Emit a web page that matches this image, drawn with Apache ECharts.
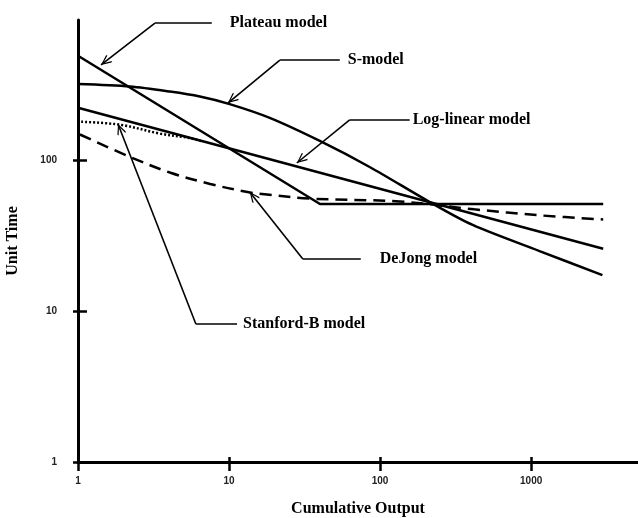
<!DOCTYPE html>
<html><head><meta charset="utf-8">
<script src="https://cdn.jsdelivr.net/npm/echarts@6/dist/echarts.min.js"></script>
<style>html,body{margin:0;padding:0;background:#fff}#c{width:638px;height:518px}</style>
</head><body><div id="c"></div>
<script>
// ---- data ----
const xTickValues = [1, 10, 100, 1000];
const yTickValues = [1, 10, 100];

const plateauX = [1, 40, 3000];
const plateauY = [496, 51.5, 51.5];

const logLinearX = [1, 3000];
const logLinearY = [224, 26];

const sModelX = [1, 2.21, 4.06, 6.41, 10.1, 18.6, 39.9, 85.3, 213, 410, 1137, 2965];
const sModelY = [322, 310, 287, 266, 237, 192, 135, 90.7, 53.1, 37.4, 25.1, 17.4];

const stanfordX = [1.05, 1.9, 3.5, 5.3, 6.5];
const stanfordY = [181, 173, 151, 142, 135];

const deJongX = [1.03, 2.2, 4.1, 7.5, 13.8, 17.8, 34, 135, 420, 1150, 3000];
const deJongY = [149, 106, 83, 70, 61.4, 59.5, 56, 53.5, 47.5, 43.3, 40.7];

// annotations (data coordinates)
const annotationText = ['Plateau model', 'S-model', 'Log-linear model', 'DeJong model', 'Stanford-B model'];
const annotationTip = [[1.42, 431], [9.82, 241], [28.1, 96.4], [13.7, 61.9], [1.84, 175]];
const annotationElbow = [[3.23, 818], [21.7, 465], [62.9, 186], [30.8, 22.2], [6.03, 8.24]];
const annotationEnd = [[7.69, 818], [54.1, 465], [157, 186], [74.5, 22.2], [11.3, 8.24]];

// ---- chart ----
const zip = (xs, ys) => xs.map((x, i) => [x, ys[i]]);
const labelGap = [18, 8, 3, 19, 6];
const arrowPath = 'path://M5,0 L10,9 L9,10 L5,2.4 L1,10 L0,9 Z';

const mlData = [];
annotationText.forEach((t, i) => {
  mlData.push([
    { coord: annotationElbow[i], symbol: 'none' },
    { coord: annotationTip[i], symbol: arrowPath, symbolSize: [9, 11], symbolOffset: [0, 5.5] }
  ]);
  mlData.push([
    { coord: annotationElbow[i], symbol: 'none' },
    { coord: annotationEnd[i], symbol: 'none',
      label: { show: true, formatter: t, position: 'end', distance: labelGap[i] } }
  ]);
});

const tickLabel = { fontFamily: 'Liberation Sans', fontWeight: 'bold', fontSize: 10, color: '#222',
  formatter: v => String(Math.round(v)) };
const axisTitle = { fontFamily: 'Liberation Serif', fontWeight: 'bold', fontSize: 16, color: '#000' };
const baseLine = { color: '#000', width: 2.5 };

function lineSeries(xs, ys, extra) {
  return Object.assign({
    type: 'line', data: zip(xs, ys), showSymbol: false, symbol: 'none',
    lineStyle: Object.assign({}, baseLine), silent: true
  }, extra || {});
}

const chart = echarts.init(document.getElementById('c'), null, { renderer: 'canvas' });
chart.setOption({
  animation: false,
  backgroundColor: '#fff',
  grid: { left: 78, right: 0, top: 20, bottom: 56, containLabel: false, outerBoundsMode: 'none' },
  xAxis: [{
    type: 'log', logBase: 10, min: 1, max: 5100,
    axisLine: { onZero: false, lineStyle: { color: '#000', width: 3 } },
    axisTick: { length: 9, lineStyle: { color: '#000', width: 2.5 }, customValues: xTickValues },
    axisLabel: Object.assign({ margin: 14, customValues: xTickValues }, tickLabel),
    splitLine: { show: false }, minorTick: { show: false },
    name: 'Cumulative Output', nameLocation: 'middle', nameGap: 39, nameTextStyle: axisTitle
  }, {
    type: 'log', logBase: 10, min: 1, max: 5100, position: 'bottom',
    axisLine: { show: false },
    axisTick: { inside: true, length: 5, lineStyle: { color: '#000', width: 2.5 }, customValues: xTickValues },
    axisLabel: { show: false }, splitLine: { show: false }
  }],
  yAxis: [{
    type: 'log', logBase: 10, min: 1, max: 857,
    axisLine: { onZero: false, lineStyle: { color: '#000', width: 3 } },
    axisTick: { length: 5, lineStyle: { color: '#000', width: 2.5 }, customValues: yTickValues },
    axisLabel: Object.assign({ margin: 21, customValues: yTickValues }, tickLabel),
    splitLine: { show: false }, minorTick: { show: false },
    name: 'Unit Time', nameLocation: 'middle', nameGap: 57, nameTextStyle: axisTitle
  }, {
    type: 'log', logBase: 10, min: 1, max: 857, position: 'left',
    axisLine: { show: false },
    axisTick: { inside: true, length: 9, lineStyle: { color: '#000', width: 2.5 }, customValues: yTickValues },
    axisLabel: { show: false }, splitLine: { show: false }
  }],
  series: [
    lineSeries(plateauX, plateauY),
    lineSeries(sModelX, sModelY, { smooth: 0.3 }),
    lineSeries(deJongX, deJongY, { smooth: 0.35, lineStyle: { color: '#000', width: 2.5, type: [12, 7] } }),
    lineSeries(stanfordX, stanfordY, { smooth: 0.35, lineStyle: { color: '#000', width: 2.5, type: [2, 2] } }),
    lineSeries(logLinearX, logLinearY, {
      clip: false, z: 3,
      markLine: {
        silent: true, animation: false, precision: 4,
        lineStyle: { type: 'solid', color: '#000', width: 1.6 },
        emphasis: { disabled: true },
        label: { show: false, color: '#000', fontFamily: 'Liberation Serif', fontWeight: 'bold', fontSize: 16 },
        data: mlData
      }
    })
  ]
});
</script></body></html>
